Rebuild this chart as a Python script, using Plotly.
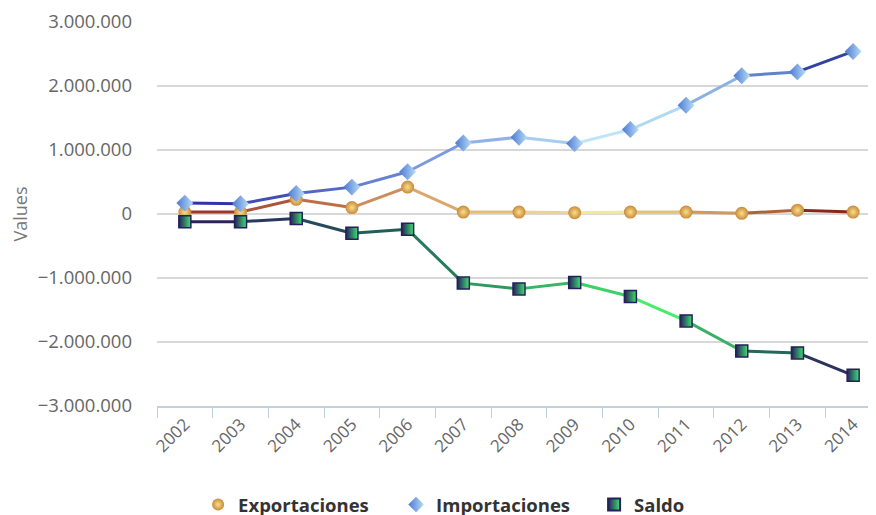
import plotly.graph_objects as go

years = ['2002', '2003', '2004', '2005', '2006', '2007', '2008',
         '2009', '2010', '2011', '2012', '2013', '2014']

exportaciones = [30000, 30000, 230000, 100000, 420000, 30000, 30000,
                 20000, 30000, 30000, 10000, 60000, 30000]
importaciones = [170000, 160000, 320000, 420000, 660000, 1110000, 1200000,
                 1100000, 1320000, 1700000, 2160000, 2220000, 2540000]
saldo = [-120000, -120000, -70000, -300000, -240000, -1080000, -1170000,
         -1070000, -1290000, -1670000, -2140000, -2170000, -2520000]

# gradient stops along the x extent of each line (Highcharts-like look)
grad_exp = [(0.0, (150, 40, 30)), (0.35, (215, 160, 105)), (0.62, (242, 236, 150)),
            (0.8, (205, 150, 95)), (1.0, (120, 10, 10))]
grad_imp = [(0.0, (40, 40, 160)), (0.35, (115, 145, 220)), (0.66, (200, 240, 250)),
            (0.85, (110, 150, 215)), (1.0, (25, 35, 140))]
grad_sal = [(0.0, (45, 25, 95)), (0.3, (35, 95, 90)), (0.45, (45, 150, 95)),
            (0.72, (75, 240, 110)), (0.88, (35, 100, 90)), (1.0, (45, 25, 90))]


def color_at(stops, t):
    for (p0, c0), (p1, c1) in zip(stops, stops[1:]):
        if p0 <= t <= p1:
            f = (t - p0) / (p1 - p0)
            r, g, b = [round(a + (b_ - a) * f) for a, b_ in zip(c0, c1)]
            return f'rgb({r},{g},{b})'
    r, g, b = stops[-1][1]
    return f'rgb({r},{g},{b})'


fig = go.Figure()

series = [
    ('Exportaciones', exportaciones, grad_exp,
     dict(symbol='circle', size=13, color='#c98a3a',
          gradient=dict(type='radial', color='#f8e08a'),
          line=dict(width=0))),
    ('Importaciones', importaciones, grad_imp,
     dict(symbol='diamond', size=13, color='#4a78d0',
          gradient=dict(type='horizontal', color='#b8dcf8'),
          line=dict(width=0))),
    ('Saldo', saldo, grad_sal,
     dict(symbol='square', size=12, color='#25205a',
          gradient=dict(type='horizontal', color='#3ee070'),
          line=dict(width=1.5, color='#25205a'))),
]

n = len(years)
for name, vals, stops, marker in series:
    # line segments coloured along a gradient
    for i in range(n - 1):
        t = (i + 0.5) / (n - 1)
        fig.add_trace(go.Scatter(
            x=years[i:i + 2], y=vals[i:i + 2], mode='lines',
            line=dict(color=color_at(stops, t), width=3),
            showlegend=False, hoverinfo='skip'
        ))

for name, vals, stops, marker in series:
    fig.add_trace(go.Scatter(
        x=years, y=vals, mode='markers', name=name, marker=marker,
        hovertemplate='%{x}: %{y:,.0f}<extra>' + name + '</extra>'
    ))

# page body adds an 8px offset, so margins are shifted by that amount
fig.update_layout(
    width=876, height=515,
    margin=dict(l=149, r=3, t=14, b=117),
    paper_bgcolor='white', plot_bgcolor='white',
    separators=',.',
    font=dict(family='Open Sans, DejaVu Sans, sans-serif', color='#666666'),
    legend=dict(
        orientation='h', xref='container', yref='container',
        x=0.217, xanchor='left', y=0.035, yanchor='middle',
        font=dict(size=18.5, color='#333333', weight='bold'),
        itemsizing='constant', itemwidth=30,
        entrywidth=153, entrywidthmode='pixels',
    ),
)

fig.update_xaxes(
    type='category', range=[-0.5, 12.5], automargin=False,
    tickson='boundaries', ticks='outside', ticklen=10, tickcolor='#c0d0e0',
    showline=True, linecolor='#c0d0e0', linewidth=1.5,
    showgrid=False, tickangle=-45,
    tickfont=dict(size=17, color='#666666'),
)

fig.update_yaxes(
    range=[-3000000, 3000000], dtick=1000000, tickformat=',d',
    automargin=False,
    showgrid=True, gridcolor='#d8d8d8', gridwidth=1.5,
    zeroline=False, showline=False,
    ticklabelstandoff=24,
    tickfont=dict(size=18.5, color='#666666'),
    title=dict(text='Values', font=dict(size=18, color='#777777'), standoff=20),
)

fig.write_html('out.html')
